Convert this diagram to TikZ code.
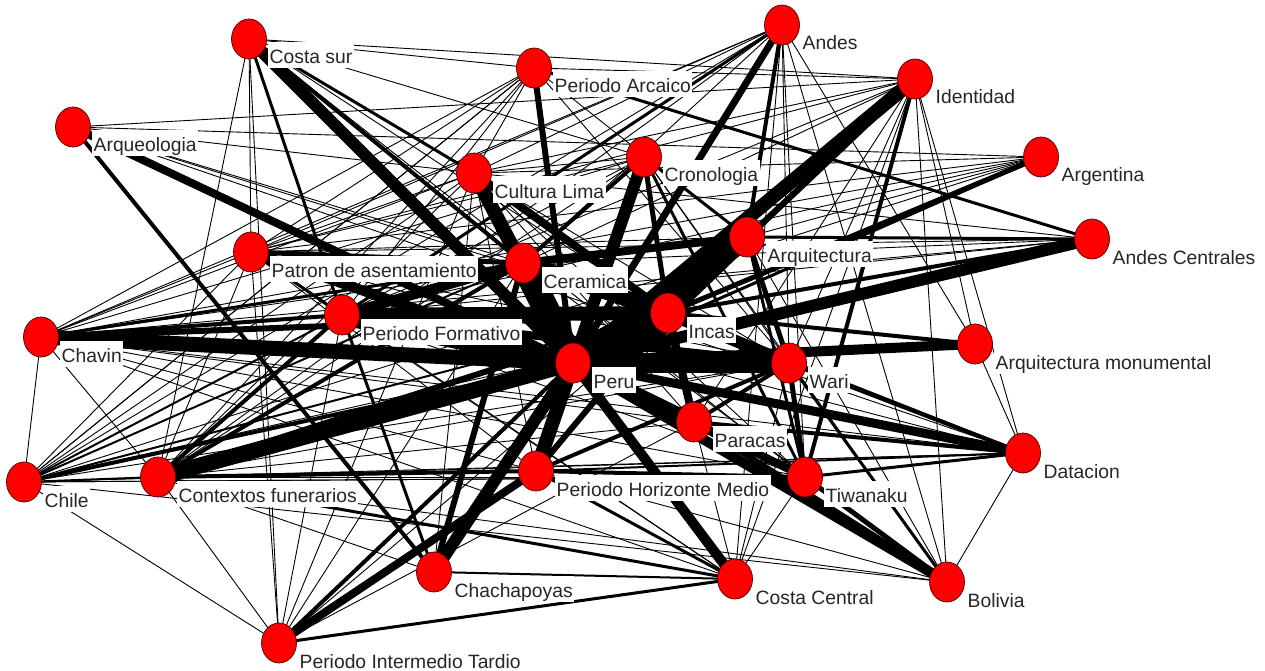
\documentclass[tikz,border=0pt]{standalone}
\usepackage{fontspec}
\setmainfont{Liberation Sans}
\usetikzlibrary{shapes.geometric}
\pgfdeclarelayer{paper}
\pgfdeclarelayer{edgelayer}
\pgfsetlayers{paper,edgelayer,main}
\definecolor{vred}{RGB}{255,0,0}
\newcommand{\labfont}{\fontsize{19.3}{22}\selectfont}
\tikzset{
  vert/.style={ellipse, fill=vred, draw=black!70!red, line width=0.7pt,
               minimum width=35pt, minimum height=40pt, inner sep=0pt},
  vlabel/.style={fill=white, anchor=base west, inner xsep=1.5pt, inner ysep=1.5pt,
                 text height=20pt, text depth=3pt, font=\labfont, text=black!85},
  tie/.style={draw=black, line cap=butt}
}
\begin{document}
\begin{tikzpicture}[x=1pt,y=-1pt]
\useasboundingbox (0,0) rectangle (1265,671);
\begin{pgfonlayer}{paper}
\fill[white] (0,0) rectangle (1265,671);
\end{pgfonlayer}
% vertices
\foreach \n/\px/\py in {
  cs/249/39, pa/534/68, an/782/25, id/915/79, aq/73/127, cl/474/173,
  cr/644/157, ar/1041/157, at/747/237, ac/1092/239, pt/251/252,
  ce/523/263, pf/342/315, in/668/313, ch/41/337, am/975/344, pe/573/363,
  wa/789/363, pc/694/422, cu/24/482, cf/158/477, ph/536/471,
  ti/805/477, da/1023/453, cc/434/572, co/735/579, bo/947/582, pi/279/643}
{
  \node[vert] (\n) at (\px,\py) {};
}
% labels, set below and to the right of each vertex
\foreach \n/\t in {
  cs/Costa sur, pa/Periodo Arcaico, an/Andes, id/Identidad, aq/Arqueologia,
  cl/Cultura Lima, cr/Cronologia, ar/Argentina, at/Arquitectura,
  ac/Andes Centrales, pt/Patron de asentamiento, ce/Ceramica,
  pf/Periodo Formativo, in/Incas, ch/Chavin, am/Arquitectura monumental,
  pe/Peru, wa/Wari, pc/Paracas, cu/Chile, cf/Contextos funerarios,
  ph/Periodo Horizonte Medio, ti/Tiwanaku, da/Datacion, cc/Chachapoyas,
  co/Costa Central, bo/Bolivia, pi/Periodo Intermedio Tardio}
{
  \path (\n.center) ++(19,25) node[vlabel] (l\n) {\t};
}
\begin{pgfonlayer}{edgelayer}
% strong ties around Peru
\foreach \a/\b/\w in {
  pe/cs/12, pe/pa/6, pe/an/7, pe/id/14, pe/aq/8, pe/cl/14, pe/cr/12, pe/ar/3,
  pe/at/22, pe/ac/12, pe/pt/10, pe/ce/26, pe/pf/20, pe/in/36, pe/ch/15,
  pe/am/10, pe/wa/20, pe/pc/14, pe/cu/4, pe/cf/16, pe/ph/14, pe/ti/8,
  pe/da/9, pe/cc/12, pe/co/10, pe/bo/10, pe/pi/4}
  \draw[tie, line width=\w pt] (\a.center) -- (\b.center);
% medium ties
\foreach \a/\b/\w in {
  in/at/16, in/ce/16, in/pf/14, in/ac/4, in/ar/5, in/wa/12, in/ch/6, in/cf/6,
  in/id/6, in/am/4, in/cr/5, in/cl/8, in/da/3, in/pc/8, in/ph/6,
  ce/pf/10, ce/pt/5, ce/cl/6, ce/at/8, ce/cc/6, ce/cs/4, ce/ch/3, ce/cr/4,
  ce/cf/4, ce/wa/6,
  at/id/5, at/an/4, at/ac/3, at/wa/5, at/cr/3, at/ti/3,
  pf/ch/4, pf/cs/3, pf/an/3, pf/cf/4, pf/pt/3, pf/wa/8,
  cs/cl/3, aq/cc/4, pa/ac/3, cr/ti/3,
  wa/ti/5, wa/bo/3, wa/da/4, wa/pc/4, id/ti/4,
  pc/bo/6, pc/ti/4, pc/da/4,
  ph/pi/8, ph/co/3, ph/wa/4, ph/ti/4,
  co/pi/3, co/cf/3, co/cc/2,
  ti/bo/5, ti/da/3, cf/cu/2, cf/ph/4,
  cu/pf/2, cu/ce/2, cu/in/2, cc/pf/3, da/ph/2}
  \draw[tie, line width=\w pt] (\a.center) -- (\b.center);
% weak ties
\foreach \a/\b in {
  cs/pa, cs/cr, cs/cf, cs/pi, cs/pt, cs/id, cs/in, cs/ti,
  aq/id, aq/ar, aq/da, aq/ce, aq/cl, aq/in,
  pa/cl, pa/pt, pa/ch, pa/pf, pa/at, pa/id, pa/wa, pa/cu,
  an/cl, an/ce, an/pt, an/wa, an/ti, an/bo, an/am, an/ch, an/cu, an/co,
  id/cl, id/ce, id/pt, id/wa, id/bo, id/am, id/da, id/pc, id/pf, id/co,
  ar/ch, ar/pt, ar/at, ar/cu, ar/pf, ar/cl,
  ac/ch, ac/pt, ac/pf, ac/cl, ac/cu, ac/ce,
  am/da,
  da/cu, da/cf, da/ch, da/pf, da/bo, da/pt,
  bo/cu, bo/cf, bo/ph, bo/ce, bo/at,
  ti/cf, ti/ch, ti/pf, ti/co, ti/cu,
  co/ch, co/pf, co/pt, co/wa, co/pc,
  cc/cl, cc/cf,
  pi/cf, pi/cu, pi/pt, pi/ce, pi/pf, pi/in, pi/cl, pi/pc,
  cf/pt, cf/ch, cf/cl, cf/pa, cf/an,
  cu/pt, cu/cl, cu/ch, cu/pa, cu/ti,
  ch/pt, ch/cl, ch/wa, ch/at, ch/ph,
  pt/cl, pt/at, pt/wa, pt/cr, pt/pc,
  cl/cr, cl/wa, cl/ti, cl/pc,
  cr/pf, cr/ch, cr/bo, cr/cf, cr/wa,
  wa/cf, wa/cu, pc/cf, pc/ch, pc/pt, ph/pt, ph/cl}
  \draw[tie, line width=0.9pt] (\a.center) -- (\b.center);
\end{pgfonlayer}
\end{tikzpicture}
\end{document}
